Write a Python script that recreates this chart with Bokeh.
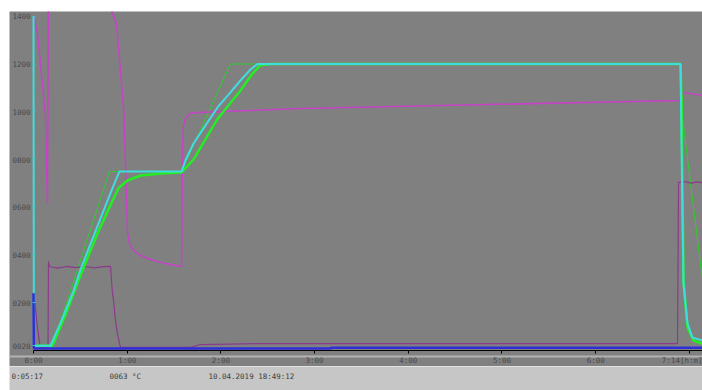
from bokeh.plotting import figure
from bokeh.models import Range1d, FixedTicker, Spacer, BoxAnnotation
from bokeh.layouts import column, row
from bokeh.core.properties import value
from bokeh.embed import file_html
from bokeh.resources import INLINE

# ---- data (time in hours, temperature in °C) ----
cyan_t = [0.000, 0.004, 0.181, 0.288, 0.427, 0.502, 0.662, 0.790, 0.864, 0.918, 1.580, 1.622, 1.708, 1.836,
          1.964, 2.102, 2.209, 2.316, 2.391, 6.905, 6.921, 6.937, 6.980, 7.033, 7.140]
cyan_v = [1400, 20, 20, 115, 250, 340, 500, 628, 700, 750, 750, 796, 867, 943,
          1018, 1081, 1131, 1177, 1200, 1200, 700, 281, 113, 54, 42]

green_t = [0.000, 0.203, 0.342, 0.502, 0.683, 0.822, 0.907, 1.003, 1.142, 1.387, 1.580, 1.708, 1.836, 1.964,
           2.209, 2.337, 2.423, 2.529, 6.905, 6.916, 6.937, 6.980, 7.044, 7.140]
green_v = [20, 20, 150, 315, 490, 610, 680, 712, 733, 742, 746, 800, 885, 970,
           1089, 1160, 1195, 1200, 1200, 1050, 293, 96, 42, 29]

setp_t = [0.000, 0.203, 0.811, 1.580, 2.102, 6.905, 6.926, 7.140]
setp_v = [20, 20, 750, 750, 1200, 1200, 976, 293]

mag_t = [0.000, 0.043, 0.117, 0.128, 0.149, 0.160, 0.800, 0.840, 0.886, 0.964, 0.971, 0.993, 1.003, 1.025,
         1.067, 1.142, 1.249, 1.409, 1.580, 1.590, 1.601, 1.633, 1.676, 1.750, 2.850, 6.905, 6.910, 7.012, 7.140]
mag_v = [1400, 1328, 1026, 984, 616, 1600, 1600, 1412, 1370, 1005, 922, 628, 494, 448,
         419, 398, 381, 364, 352, 838, 943, 980, 993, 997, 1014, 1047, 1081, 1077, 1068]

pur_t = [0.000, 0.021, 0.043, 0.069, 0.075, 0.155, 0.160, 0.171, 0.25, 0.35, 0.45, 0.55, 0.65, 0.75, 0.822,
         0.840, 0.854, 0.875, 0.896, 0.928, 1.676, 1.782, 2.423, 6.873, 6.884, 6.95, 7.02, 7.08, 7.140]
pur_v = [239, 180, 96, 21, 13, 13, 373, 352, 345, 352, 347, 352, 346, 351, 352,
         251, 209, 126, 71, 13, 13, 25, 29, 29, 704, 708, 701, 706, 703]

blue_t = [0.000, 0.004, 3.170, 3.180, 7.140]
blue_v = [240, 8, 8, 12, 12]

y_ticks = [20, 200, 400, 600, 800, 1000, 1200, 1400]
y_labels = ["0020", "0200", "0400", "0600", "0800", "1000", "1200", "1400"]
x_ticks = [0, 1, 2, 3, 4, 5, 6, 7]
x_labels = ["0:00", "1:00", "2:00", "3:00", "4:00", "5:00", "6:00", "7:14[h:m]"]

status_texts = ["0:05:17", "0063 °C", "10.04.2019 18:49:12"]
status_x = [2, 100, 199]

FONT = "DejaVu Sans Mono"
LBL = "#4a4a4a"
GRAY = "#808080"
X_END = 7.1398

p = figure(width=693, height=355, x_range=Range1d(-0.2561, X_END), y_range=Range1d(-67, 1420),
           output_backend="svg", toolbar_location=None, min_border=0,
           background_fill_color=GRAY, border_fill_color=GRAY, outline_line_color=None)
p.grid.visible = False

# y axis, drawn along t = 0 inside the plot area
ya = p.yaxis[0]
ya.fixed_location = 0
ya.ticker = FixedTicker(ticks=y_ticks)
ya.major_label_overrides = {t: l for t, l in zip(y_ticks, y_labels)}
ya.axis_line_color = None
ya.major_tick_line_color = "#3cc8c8"
ya.major_tick_in = 2
ya.major_tick_out = 1
ya.minor_tick_line_color = None
ya.major_label_text_font = FONT
ya.major_label_text_font_size = "7.5px"
ya.major_label_text_color = LBL
ya.major_label_standoff = 2

# x axis, drawn along the zero line inside the plot area
xa = p.xaxis[0]
xa.fixed_location = 0
xa.bounds = (0, X_END)
xa.ticker = FixedTicker(ticks=x_ticks)
xa.major_label_overrides = {t: l for t, l in zip(x_ticks, x_labels)}
xa.axis_line_color = "black"
xa.major_tick_line_color = "black"
xa.major_tick_in = 0
xa.major_tick_out = 3
xa.minor_tick_line_color = None
xa.major_label_text_font = FONT
xa.major_label_text_font_size = "7.5px"
xa.major_label_text_color = LBL
xa.major_label_standoff = 2

# light separator line behind the time labels
p.add_layout(BoxAnnotation(left=0, right=693, top=344, bottom=346,
                           left_units="canvas", right_units="canvas",
                           top_units="canvas", bottom_units="canvas",
                           fill_color="#b2b2b2", fill_alpha=1.0, line_color=None, level="underlay"))

p.line(setp_t, setp_v, line_color="#2ecc2e", line_width=1)
p.line(mag_t, mag_v, line_color="#c642c6", line_width=1.5)
p.line(pur_t, pur_v, line_color="#8c3a8c", line_width=1.2)
p.line(green_t, green_v, line_color="#22ee22", line_width=2.5)
p.line(cyan_t, cyan_v, line_color="#3fdede", line_width=2)
p.line(blue_t, blue_v, line_color="#2f2fd8", line_width=2.5)

# status bar
s = figure(width=693, height=24, x_range=Range1d(0, 693), y_range=Range1d(0, 24),
           output_backend="svg", toolbar_location=None, min_border=0,
           x_axis_location=None, y_axis_location=None,
           background_fill_color="#c6c6c6", border_fill_color="#c6c6c6", outline_line_color=None)
s.grid.visible = False
s.text(x=status_x, y=[14.5] * len(status_texts), text=status_texts,
       text_font=value(FONT), text_font_size="7.5px", text_color="#3c3c3c", text_baseline="middle")

layout = column(Spacer(width=702, height=11),
                row(Spacer(width=9, height=355), p, spacing=0),
                row(Spacer(width=9, height=24), s, spacing=0),
                spacing=0)
open("out.html", "w").write(file_html(layout, INLINE))
